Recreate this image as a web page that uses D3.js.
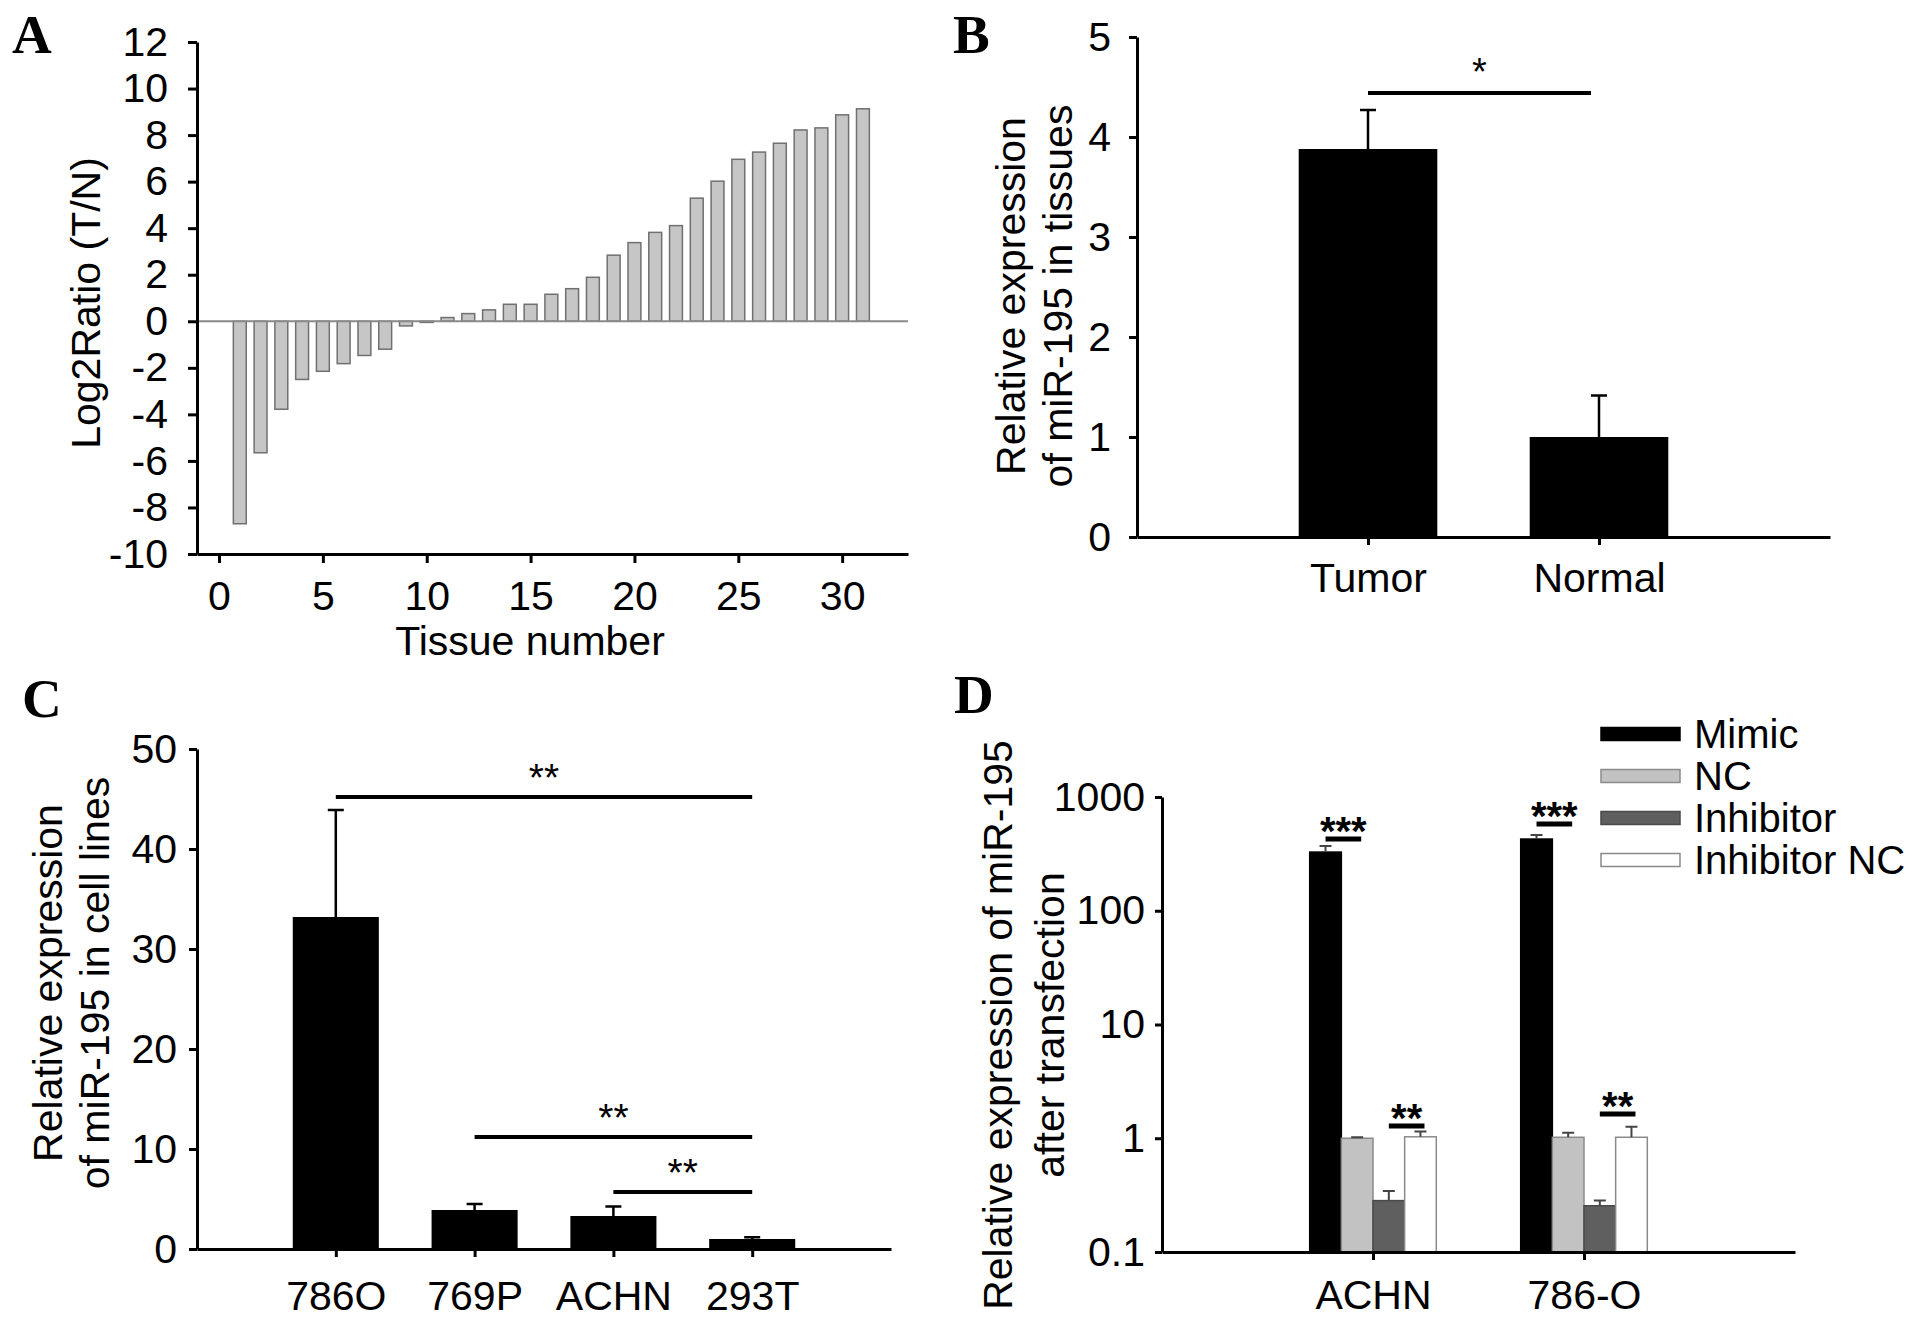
<!DOCTYPE html>
<html>
<head>
<meta charset="utf-8">
<script src="https://cdn.jsdelivr.net/npm/d3@7"></script>
<style>
    body { margin: 0; background: #ffffff; }
    text { font-family: "Liberation Sans", Arial, sans-serif; }
</style>
</head>
<body>
<div id="canvas"></div>
<script>
"use strict"

/* Panel A: log2 ratio (tumor / normal) for each tissue */
let tissueNumbers = [1, 2, 3, 4, 5, 6, 7, 8, 9, 10, 11, 12, 13, 14, 15, 16,
    17, 18, 19, 20, 21, 22, 23, 24, 25, 26, 27, 28, 29, 30, 31];
let log2Ratios = [-8.7, -5.65, -3.78, -2.5, -2.15, -1.82, -1.47, -1.2, -0.2, -0.05,
    0.16, 0.33, 0.49, 0.73, 0.73, 1.16, 1.4, 1.89, 2.84, 3.38, 3.82, 4.11,
    5.29, 6.02, 6.96, 7.27, 7.65, 8.22, 8.31, 8.87, 9.13];
let aYTicks = [-10, -8, -6, -4, -2, 0, 2, 4, 6, 8, 10, 12];
let aXTicks = [0, 5, 10, 15, 20, 25, 30];

/* Panel B: tissues */
let tissueGroups = ["Tumor", "Normal"];
let tissueMeans = [3.88, 1.0];
let tissueErrors = [0.39, 0.415];
let bYTicks = [0, 1, 2, 3, 4, 5];
let bSig = [{ from: 0, to: 1, y: 4.44, label: "*" }];

/* Panel C: cell lines */
let cellLines = ["786O", "769P", "ACHN", "293T"];
let cellMeans = [33.2, 3.9, 3.3, 1.0];
let cellErrors = [10.7, 0.6, 0.95, 0.18];
let cYTicks = [0, 10, 20, 30, 40, 50];
let cSig = [
    { from: 0, to: 3, y: 45.2, label: "**" },
    { from: 1, to: 3, y: 11.2, label: "**" },
    { from: 2, to: 3, y: 5.7, label: "**" }
];

/* Panel D: after transfection (log scale) */
let transfectLines = ["ACHN", "786-O"];
let transfectGroups = ["Mimic", "NC", "Inhibitor", "Inhibitor NC"];
let mimicValues = [328, 427];
let ncValues = [1.0, 1.02];
let inhibitorValues = [0.283, 0.255];
let inhibitorNcValues = [1.03, 1.02];
let mimicErrors = [43, 37];
let ncErrors = [0.02, 0.1];
let inhibitorErrors = [0.061, 0.028];
let inhibitorNcErrors = [0.116, 0.24];
let dYTicks = [0.1, 1, 10, 100, 1000];
let dSig = [
    { line: 0, from: 0, to: 1, y: 427, label: "***" },
    { line: 0, from: 2, to: 3, y: 1.28, label: "**" },
    { line: 1, from: 0, to: 1, y: 579, label: "***" },
    { line: 1, from: 2, to: 3, y: 1.63, label: "**" }
];

/* Drawing config */
let svgWidth = 1923;
let svgHeight = 1324;
let fontSize = 41;

let svg = d3.select("#canvas")
    .append("svg")
    .attr("width", svgWidth)
    .attr("height", svgHeight);

svg.append("rect")
    .attr("width", svgWidth)
    .attr("height", svgHeight)
    .attr("fill", "white");

// plain hyphen minus like the original figure
let plainFormat = function(d) { return String(d); };

/* shared axis styling */
function styleAxis(g, width) {
    g.selectAll("path").attr("stroke", "black").attr("stroke-width", width);
    g.selectAll("line").attr("stroke", "black").attr("stroke-width", width);
    g.selectAll("text")
        .attr("fill", "black")
        .style("font-size", fontSize + "px");
}

function panelLetter(x, y, letter) {
    svg.append("text")
        .attr("x", x)
        .attr("y", y)
        .text(letter)
        .style("font-family", "'Liberation Serif', 'Times New Roman', serif")
        .style("font-weight", "bold")
        .style("font-size", "55px");
}

function yLabel(cx, cy, lines, lineGap) {
    lines.forEach(function(t, i) {
        svg.append("text")
            .attr("transform", "translate(" + (cx + i * lineGap) + "," + cy + ") rotate(-90)")
            .attr("text-anchor", "middle")
            .style("font-size", fontSize + "px")
            .text(t);
    });
}

function sigBar(x1, x2, y, label, fs, width, shift, bold) {
    svg.append("line")
        .attr("x1", x1).attr("x2", x2)
        .attr("y1", y).attr("y2", y)
        .attr("stroke", "black")
        .attr("stroke-width", width);
    svg.append("text")
        .attr("x", (x1 + x2) / 2)
        .attr("y", y + shift)
        .attr("text-anchor", "middle")
        .style("font-size", fs + "px")
        .style("font-weight", bold ? "bold" : "normal")
        .text(label);
}

/**** Panel A ****/
panelLetter(12, 53, "A");

let aX = d3.scaleLinear()
    .domain([-1.06, 33.17])
    .range([197, 908]);

let aY = d3.scaleLinear()
    .domain([-10, 12])
    .range([554, 42]);

svg.selectAll(".aBar")
    .data(log2Ratios)
    .join("rect")
    .attr("class", "aBar")
    .attr("x", function(d, i) { return aX(tissueNumbers[i] - 0.31); })
    .attr("width", aX(0.62) - aX(0))
    .attr("y", function(d) { return aY(Math.max(d, 0)); })
    .attr("height", function(d) { return Math.abs(aY(d) - aY(0)); })
    .attr("fill", "#c6c6c6")
    .attr("stroke", "#707070")
    .attr("stroke-width", 1.5);

// zero line
svg.append("line")
    .attr("x1", aX.range()[0])
    .attr("x2", aX.range()[1])
    .attr("y1", aY(0))
    .attr("y2", aY(0))
    .attr("stroke", "#8a8a8a")
    .attr("stroke-width", 2);

svg.append("g")
    .attr("transform", "translate(197,0)")
    .call(d3.axisLeft(aY).tickValues(aYTicks).tickFormat(plainFormat)
        .tickSize(9).tickSizeOuter(0).tickPadding(20))
    .call(styleAxis, 3);

svg.append("g")
    .attr("transform", "translate(0," + aY(-10) + ")")
    .call(d3.axisBottom(aX).tickValues(aXTicks).tickFormat(plainFormat)
        .tickSize(9).tickSizeOuter(0).tickPadding(18))
    .call(styleAxis, 3);

svg.append("text")
    .attr("x", 530)
    .attr("y", 655)
    .attr("text-anchor", "middle")
    .style("font-size", fontSize + "px")
    .text("Tissue number");

yLabel(100, 303, ["Log2Ratio (T/N)"], 0);

/**** Panel B ****/
panelLetter(953, 53, "B");

let bX = d3.scaleLinear().domain([0, 3]).range([1137, 1830]);
let bY = d3.scaleLinear().domain([0, 5]).range([537, 37]);

svg.selectAll(".bBar")
    .data(tissueMeans)
    .join("rect")
    .attr("class", "bBar")
    .attr("x", function(d, i) { return bX(i + 1 - 0.3); })
    .attr("width", bX(0.6) - bX(0))
    .attr("y", function(d) { return bY(d); })
    .attr("height", function(d) { return bY(0) - bY(d); })
    .attr("fill", "black");

svg.selectAll(".bErr")
    .data(tissueMeans)
    .join("path")
    .attr("class", "bErr")
    .attr("d", function(d, i) {
        let cx = bX(i + 1);
        let top = bY(d + tissueErrors[i]);
        return "M" + cx + "," + bY(d) + "V" + top + "M" + (cx - 8) + "," + top + "H" + (cx + 8);
    })
    .attr("stroke", "black")
    .attr("stroke-width", 2.5)
    .attr("fill", "none");

svg.append("g")
    .attr("transform", "translate(1137,0)")
    .call(d3.axisLeft(bY).tickValues(bYTicks).tickFormat(plainFormat)
        .tickSize(8).tickSizeOuter(0).tickPadding(18))
    .call(styleAxis, 3);

svg.append("g")
    .attr("transform", "translate(0," + bY(0) + ")")
    .call(d3.axisBottom(bX).tickValues([1, 2]).tickFormat(function(d) { return tissueGroups[d - 1]; })
        .tickSize(8).tickSizeOuter(0).tickPadding(18))
    .call(styleAxis, 3);

bSig.forEach(function(s) {
    sigBar(bX(s.from + 1), bX(s.to + 1) - 8, bY(s.y), s.label, 38, 4, -8, false);
});

yLabel(1025, 296, ["Relative expression", "of miR-195 in tissues"], 47);

/**** Panel C ****/
panelLetter(22, 717, "C");

let cX = d3.scaleLinear().domain([0, 5]).range([197, 891]);
let cY = d3.scaleLinear().domain([0, 50]).range([1249, 749]);

svg.selectAll(".cBar")
    .data(cellMeans)
    .join("rect")
    .attr("class", "cBar")
    .attr("x", function(d, i) { return cX(i + 1 - 0.31); })
    .attr("width", cX(0.62) - cX(0))
    .attr("y", function(d) { return cY(d); })
    .attr("height", function(d) { return cY(0) - cY(d); })
    .attr("fill", "black");

svg.selectAll(".cErr")
    .data(cellMeans)
    .join("path")
    .attr("class", "cErr")
    .attr("d", function(d, i) {
        let cx = cX(i + 1);
        let top = cY(d + cellErrors[i]);
        return "M" + cx + "," + cY(d) + "V" + top + "M" + (cx - 8) + "," + top + "H" + (cx + 8);
    })
    .attr("stroke", "black")
    .attr("stroke-width", 2.5)
    .attr("fill", "none");

svg.append("g")
    .attr("transform", "translate(197,0)")
    .call(d3.axisLeft(cY).tickValues(cYTicks).tickFormat(plainFormat)
        .tickSize(8).tickSizeOuter(0).tickPadding(12))
    .call(styleAxis, 3);

svg.append("g")
    .attr("transform", "translate(0," + cY(0) + ")")
    .call(d3.axisBottom(cX).tickValues([1, 2, 3, 4]).tickFormat(function(d) { return cellLines[d - 1]; })
        .tickSize(8).tickSizeOuter(0).tickPadding(24))
    .call(styleAxis, 3);

cSig.forEach(function(s) {
    sigBar(cX(s.from + 1), cX(s.to + 1), cY(s.y), s.label, 39, 4, -6, false);
});

yLabel(62, 983, ["Relative expression", "of miR-195 in cell lines"], 47);

/**** Panel D ****/
panelLetter(954, 713, "D");

let dX = d3.scaleLinear().domain([0, 3]).range([1162, 1795]);
let dY = d3.scaleLog().domain([0.1, 1000]).range([1252, 797]);

let dColors = ["#000000", "#c2c2c2", "#5f5f5f", "#ffffff"];
let dStrokes = ["#000000", "#8a8a8a", "#4a4a4a", "#8a8a8a"];
let dSeries = [mimicValues, ncValues, inhibitorValues, inhibitorNcValues];
let dErrors = [mimicErrors, ncErrors, inhibitorErrors, inhibitorNcErrors];
let barW = 0.15;

let dBars = [];
dSeries.forEach(function(vals, g) {
    vals.forEach(function(v, i) {
        dBars.push({ line: i, group: g, value: v, err: dErrors[g][i] });
    });
});

function dCenter(line, group) {
    return dX(line + 1 - 2 * barW + (group + 0.5) * barW);
}

svg.selectAll(".dBar")
    .data(dBars)
    .join("rect")
    .attr("class", "dBar")
    .attr("x", function(d) { return dCenter(d.line, d.group) - (dX(barW) - dX(0)) / 2; })
    .attr("width", dX(barW) - dX(0))
    .attr("y", function(d) { return dY(d.value); })
    .attr("height", function(d) { return dY(0.1) - dY(d.value); })
    .attr("fill", function(d) { return dColors[d.group]; })
    .attr("stroke", function(d) { return dStrokes[d.group]; })
    .attr("stroke-width", 1.5);

svg.selectAll(".dErr")
    .data(dBars)
    .join("path")
    .attr("class", "dErr")
    .attr("d", function(d) {
        let cx = dCenter(d.line, d.group);
        let top = dY(d.value + d.err);
        return "M" + cx + "," + dY(d.value) + "V" + top + "M" + (cx - 6) + "," + top + "H" + (cx + 6);
    })
    .attr("stroke", "#444444")
    .attr("stroke-width", 2)
    .attr("fill", "none");

svg.append("g")
    .attr("transform", "translate(1162,0)")
    .call(d3.axisLeft(dY).tickValues(dYTicks).tickFormat(plainFormat)
        .tickSize(7).tickSizeOuter(0).tickPadding(10))
    .call(styleAxis, 3);

svg.append("g")
    .attr("transform", "translate(0," + dY(0.1) + ")")
    .call(d3.axisBottom(dX).tickValues([1, 2]).tickFormat(function(d) { return transfectLines[d - 1]; })
        .tickSize(8).tickSizeOuter(0).tickPadding(20))
    .call(styleAxis, 3);

dSig.forEach(function(s) {
    sigBar(dCenter(s.line, s.from), dCenter(s.line, s.to) + 4, dY(s.y), s.label, 40, 5, 6, true);
});

// legend
let legendX = 1601;
let legendY = 734;
svg.selectAll(".dKey")
    .data(transfectGroups)
    .join("rect")
    .attr("class", "dKey")
    .attr("x", legendX)
    .attr("y", function(d, i) { return legendY + i * 42 - 6.5; })
    .attr("width", 79)
    .attr("height", 13)
    .attr("fill", function(d, i) { return dColors[i]; })
    .attr("stroke", function(d, i) { return dStrokes[i]; })
    .attr("stroke-width", 1.5);

svg.selectAll(".dKeyLabel")
    .data(transfectGroups)
    .join("text")
    .attr("class", "dKeyLabel")
    .attr("x", legendX + 93)
    .attr("y", function(d, i) { return legendY + i * 42 + 14; })
    .style("font-size", "40px")
    .text(function(d) { return d; });

yLabel(1012, 1025, ["Relative expression of miR-195", "after transfection"], 52);
</script>
</body>
</html>
